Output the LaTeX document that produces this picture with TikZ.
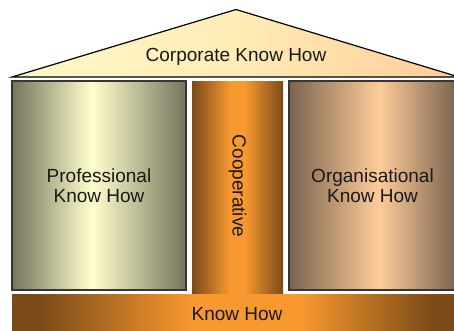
\documentclass[tikz,border=0pt]{standalone}
\usepackage{fontspec}
\setmainfont{Liberation Sans}

\definecolor{roofleft}{HTML}{FFF9C9}
\definecolor{roofmid}{HTML}{FFECB6}
\definecolor{roofright}{HTML}{FFCC99}
\definecolor{profedge}{HTML}{75755D}
\definecolor{profmid}{HTML}{FFFFCC}
\definecolor{brownedge}{HTML}{7B4A18}
\definecolor{orangemid}{HTML}{F8992F}
\definecolor{orgedge}{HTML}{7A6450}
\definecolor{orgmid}{HTML}{FFCC99}
\definecolor{boxline}{HTML}{38362E}

\pgfdeclarehorizontalshading{roofshade}{100bp}{color(0bp)=(roofleft); color(25bp)=(roofleft);
  color(50bp)=(roofmid); color(75bp)=(roofright); color(100bp)=(roofright)}
\pgfdeclarehorizontalshading{profshade}{100bp}{color(0bp)=(profedge); color(25bp)=(profedge);
  color(48bp)=(profmid); color(75bp)=(profedge); color(100bp)=(profedge)}
\pgfdeclarehorizontalshading{coopshade}{100bp}{color(0bp)=(brownedge); color(25bp)=(brownedge);
  color(46bp)=(orangemid); color(54bp)=(orangemid); color(75bp)=(brownedge); color(100bp)=(brownedge)}
\pgfdeclarehorizontalshading{orgshade}{100bp}{color(0bp)=(orgedge); color(25bp)=(orgedge);
  color(52bp)=(orgmid); color(75bp)=(orgedge); color(100bp)=(orgedge)}
\pgfdeclarehorizontalshading{barshade}{100bp}{color(0bp)=(brownedge); color(28bp)=(brownedge);
  color(45bp)=(orangemid); color(57bp)=(orangemid); color(72bp)=(brownedge); color(100bp)=(brownedge)}

\begin{document}
\begin{tikzpicture}[x=1pt,y=-1pt,
  caption/.style={font=\fontsize{19}{20}\selectfont, text=black!90, align=center},
  pillar/.style={caption, draw=boxline, line width=1.2pt, inner sep=0pt}]

\path[use as bounding box, clip] (0,0) rectangle (454,330);

% roof
\draw[shading=roofshade, line width=1.2pt] (12,77) -- (236,9.5) -- (459,77) -- cycle;
\node[caption, anchor=base] (corporate) at (236,61) {Corporate Know How};

% pillars
\node[pillar, shading=profshade, minimum width=174pt, minimum height=209pt]
  (professional) at (99,185.5) {Professional\\Know How};

\path[shading=coopshade] (192,81) rectangle (283,294);
\node[caption, rotate=-90] (cooperative) at (237.5,186) {Cooperative};

\node[pillar, shading=orgshade, minimum width=167pt, minimum height=209pt]
  (organisational) at (372.5,185.5) {Organisational\\Know How};

% base
\node[caption, shading=barshade, inner sep=0pt, minimum width=450pt, minimum height=41pt]
  (knowhow) at (237,314.5) {Know How};

\end{tikzpicture}
\end{document}
